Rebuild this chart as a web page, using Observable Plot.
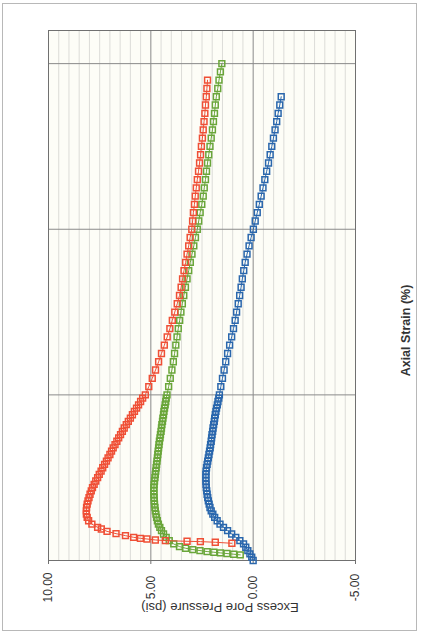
<!DOCTYPE html>
<html><head><meta charset="utf-8">
<script src="https://cdn.jsdelivr.net/npm/d3@7"></script>
<script src="https://cdn.jsdelivr.net/npm/@observablehq/plot@0.6"></script>
<style>
html,body{margin:0;padding:0;background:#fff;}
#wrap{position:relative;width:421px;height:634px;overflow:hidden;}
#chart{position:absolute;left:0;top:0;}
#border{position:absolute;left:2px;top:3px;width:413px;height:626px;border:1.5px solid #b8b8b8;pointer-events:none;}
</style></head><body>
<div id="wrap"><div id="chart"></div><div id="border"></div></div>
<script>
const pressureTicks = [10, 5, 0, -5];
const pressureMinor = [9.5,9,8.5,8,7.5,7,6.5,6,5.5,4.5,4,3.5,3,2.5,2,1.5,1,0.5,-0.5,-1,-1.5,-2,-2.5,-3,-3.5,-4,-4.5];
const strainMajor = [5, 10, 15];
const xTitle = "Excess Pore Pressure (psi)";
const yTitle = "Axial Strain (%)";

const redStrain = [0.52,0.55,0.57,0.58,0.60,0.62,0.65,0.67,0.70,0.75,0.81,0.88,0.95,
 1.0,1.1,1.2,1.3,1.4,1.5,1.6,1.7,1.8,1.9,
 2.0,2.1,2.2,2.3,2.4,2.5,2.6,2.7,2.8,2.9,
 3.0,3.1,3.2,3.3,3.4,3.5,3.6,3.7,3.8,3.9,
 4.0,4.1,4.2,4.3,4.4,4.5,4.6,4.7,4.8,4.9,
 5.0,5.25,5.5,5.75,6.0,6.25,6.5,6.75,7.0,7.25,7.5,7.75,8.0,8.25,8.5,8.75,
 9.0,9.25,9.5,9.75,10.0,10.25,10.5,10.75,11.0,11.25,11.5,11.75,12.0,12.25,12.5,12.75,
 13.0,13.25,13.5,13.75,14.0,14.25,14.5];
const redPressure = [1.04,1.85,2.58,3.23,4.29,4.78,5.19,5.51,5.84,6.24,6.7,7.14,7.42,
 7.6,7.88,8.04,8.11,8.15,8.15,8.14,8.11,8.07,8.02,
 7.97,7.91,7.85,7.77,7.69,7.6,7.52,7.43,7.35,7.26,
 7.17,7.09,7.0,6.92,6.84,6.75,6.66,6.57,6.48,6.39,
 6.3,6.2,6.1,6.0,5.9,5.8,5.7,5.6,5.5,5.4,
 5.27,5.1,4.93,4.77,4.62,4.48,4.34,4.2,4.07,3.95,3.83,3.71,3.6,3.52,3.45,3.38,
 3.3,3.23,3.15,3.08,3.0,2.96,2.92,2.87,2.83,2.78,2.73,2.67,2.62,2.57,2.53,2.48,
 2.44,2.40,2.36,2.33,2.29,2.26,2.23];

const greenStrain = [0.17,0.19,0.21,0.23,0.25,0.27,0.30,0.33,0.37,0.42,0.5,0.6,0.7,0.8,0.9,
 1.0,1.1,1.2,1.3,1.4,1.5,1.6,1.7,1.8,1.9,
 2.0,2.1,2.2,2.3,2.4,2.5,2.6,2.7,2.8,2.9,
 3.0,3.1,3.2,3.3,3.4,3.5,3.6,3.7,3.8,3.9,
 4.0,4.1,4.2,4.3,4.4,4.5,4.6,4.7,4.8,4.9,
 5.0,5.25,5.5,5.75,6.0,6.25,6.5,6.75,7.0,7.25,7.5,7.75,8.0,8.25,8.5,8.75,
 9.0,9.25,9.5,9.75,10.0,10.25,10.5,10.75,11.0,11.25,11.5,11.75,12.0,12.25,12.5,12.75,
 13.0,13.25,13.5,13.75,14.0,14.25,14.5,14.75,15.0];
const greenPressure = [0.63,0.95,1.28,1.6,1.92,2.25,2.6,2.95,3.3,3.6,3.88,4.1,4.25,4.38,4.48,
 4.56,4.63,4.68,4.72,4.75,4.78,4.8,4.82,4.83,4.84,
 4.85,4.85,4.85,4.84,4.82,4.8,4.78,4.76,4.74,4.72,
 4.7,4.68,4.66,4.64,4.62,4.6,4.58,4.55,4.53,4.5,
 4.48,4.46,4.43,4.41,4.38,4.36,4.33,4.3,4.27,4.25,
 4.21,4.13,4.05,3.97,3.9,3.84,3.78,3.72,3.66,3.59,3.53,3.46,3.39,3.31,3.23,3.15,
 3.07,2.99,2.90,2.82,2.73,2.66,2.59,2.51,2.44,2.39,2.33,2.28,2.23,2.17,2.11,2.05,
 1.99,1.94,1.89,1.85,1.8,1.73,1.67,1.60,1.53];

const blueStrain = [0.0,0.1,0.2,0.3,0.4,0.5,0.6,0.7,0.8,0.9,
 1.0,1.1,1.2,1.3,1.4,1.5,1.6,1.7,1.8,1.9,
 2.0,2.1,2.2,2.3,2.4,2.5,2.6,2.7,2.8,2.9,
 3.0,3.1,3.2,3.3,3.4,3.5,3.6,3.7,3.8,3.9,
 4.0,4.1,4.2,4.3,4.4,4.5,4.6,4.7,4.8,4.9,
 5.0,5.25,5.5,5.75,6.0,6.25,6.5,6.75,7.0,7.25,7.5,7.75,8.0,8.25,8.5,8.75,
 9.0,9.25,9.5,9.75,10.0,10.25,10.5,10.75,11.0,11.25,11.5,11.75,12.0,12.25,12.5,12.75,
 13.0,13.25,13.5,13.75,14.0];
const bluePressure = [0.0,0.07,0.16,0.26,0.36,0.47,0.65,0.85,1.05,1.25,
 1.45,1.62,1.76,1.88,1.97,2.05,2.11,2.15,2.19,2.22,
 2.25,2.27,2.29,2.30,2.31,2.31,2.31,2.30,2.28,2.25,
 2.22,2.19,2.16,2.13,2.10,2.08,2.05,2.03,2.01,1.98,
 1.96,1.93,1.90,1.88,1.85,1.82,1.79,1.75,1.72,1.68,
 1.65,1.58,1.50,1.42,1.34,1.25,1.15,1.05,0.96,0.88,0.81,0.73,0.66,0.59,0.53,0.46,
 0.39,0.30,0.20,0.10,-0.01,-0.10,-0.20,-0.30,-0.39,-0.48,-0.57,-0.66,-0.75,-0.83,-0.91,-0.99,
 -1.07,-1.15,-1.22,-1.30,-1.37];

const toRows = (s, p) => s.map((v, i) => ({strain: v, pressure: p[i]}));
const red = toRows(redStrain, redPressure);
const green = toRows(greenStrain, greenPressure);
const blue = toRows(blueStrain, bluePressure);

const seriesMarks = (rows, color) => [
  Plot.line(rows, {x: "pressure", y: "strain", stroke: color, strokeWidth: 1}),
  Plot.dot(rows, {x: "pressure", y: "strain", symbol: "square", r: 3.3, stroke: color, fill: "none", strokeWidth: 1.5})
];

const chart = Plot.plot({
  width: 421, height: 634,
  marginLeft: 48, marginRight: 66, marginTop: 30, marginBottom: 74,
  style: {fontFamily: "Liberation Sans, Arial, sans-serif", background: "transparent"},
  x: {domain: [10, -5]},
  y: {domain: [0, 16]},
  marks: [
    Plot.frame({fill: "#fdfdf7", stroke: null}),
    Plot.ruleX(pressureMinor, {stroke: "#dcdcd8", strokeWidth: 1}),
    Plot.ruleX([5, 0], {stroke: "#8a8a8a", strokeWidth: 1}),
    Plot.ruleY(strainMajor, {stroke: "#8a8a8a", strokeWidth: 1}),
    Plot.frame({stroke: "#707070"}),
    Plot.axisX({ticks: pressureTicks, tickSize: 4, tickFormat: () => "", label: null, stroke: "#707070"}),
    Plot.axisY({ticks: [], label: null}),
    Plot.text(pressureTicks, {x: d => d, frameAnchor: "bottom", dy: 27, rotate: -90, text: d => d.toFixed(2),
      fontSize: 12, fill: "#333", textAnchor: "middle", lineAnchor: "middle"}),
    Plot.text([xTitle], {frameAnchor: "bottom", dx: 18, dy: 47, rotate: 180, text: d => d,
      fontSize: 13, fill: "#333", textAnchor: "middle", lineAnchor: "middle"}),
    Plot.text([yTitle], {frameAnchor: "right", dx: 50, dy: 35, rotate: -90, text: d => d,
      fontSize: 12.5, fontWeight: "bold", fill: "#333", textAnchor: "middle", lineAnchor: "middle"}),
    ...seriesMarks(blue, "#2a67ad"),
    ...seriesMarks(green, "#6aa63a"),
    ...seriesMarks(red, "#ef4f36")
  ]
});
document.getElementById("chart").appendChild(chart);
</script>
</body></html>
